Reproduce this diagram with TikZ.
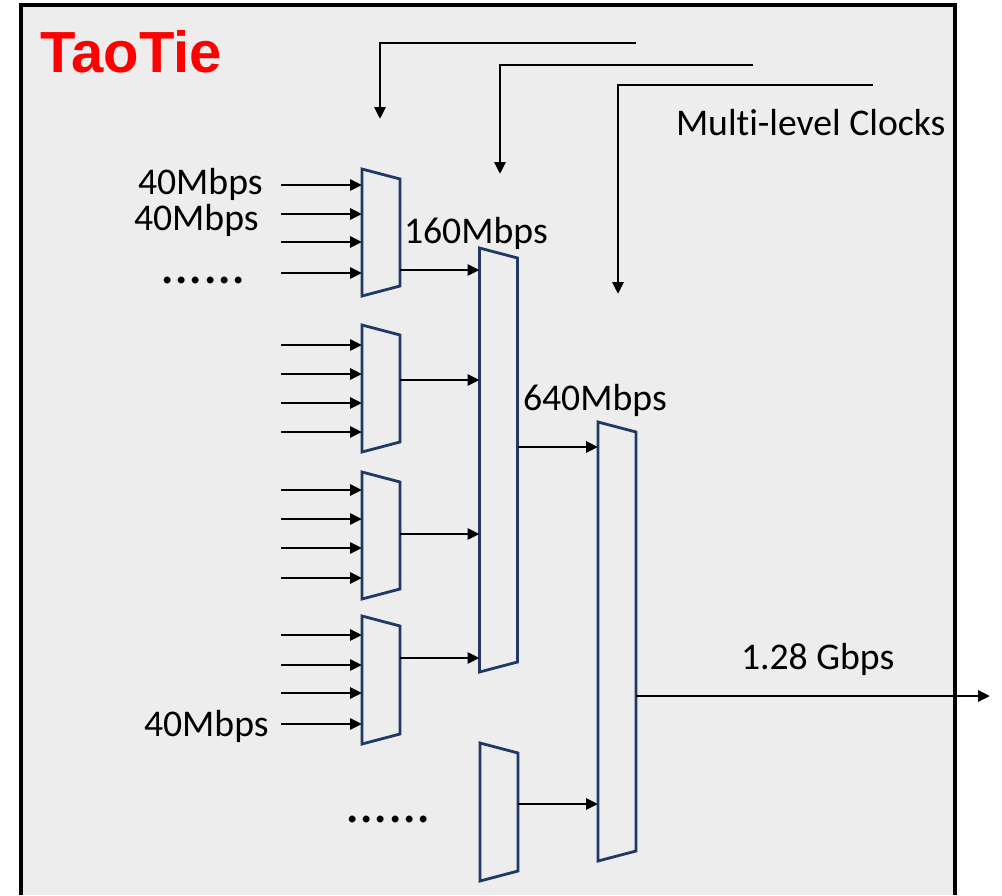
\documentclass[tikz,border=0pt]{standalone}
\usepackage{fontspec}
\setmainfont{Carlito}[Ligatures={NoCommon}]
\newfontfamily\titlefont{Liberation Sans}
\usetikzlibrary{arrows.meta}
\definecolor{bg}{HTML}{EDEDED}
\definecolor{muxc}{HTML}{203864}
\definecolor{titlered}{HTML}{FF0000}
\tikzset{
  arr/.style={line width=2.9pt, -{Triangle[length=12pt,width=11pt]}},
  lbl/.style={inner sep=0pt, outer sep=0pt, anchor=base west, font=\fontsize{37.7}{40}\selectfont},
  dotslbl/.style={inner sep=0pt, outer sep=0pt, anchor=base west, font=\fontsize{57}{60}\selectfont},
  muxbox/.style={inner sep=0pt, outer sep=0pt, minimum width=38pt, draw=none},
  muxline/.style={draw=muxc, line width=2.8pt, line join=miter},
}
\newcommand{\muxdraw}[4]{%
  \node[muxbox, minimum height=#4pt] (#1) at (#2,#3) {};
  \draw[muxline] (#1.north west) -- ([yshift=-10pt]#1.north east) -- ([yshift=10pt]#1.south east) -- (#1.south west) -- cycle;
}
\begin{document}
\begin{tikzpicture}[x=1pt,y=-1pt]
\useasboundingbox (0,0) rectangle (1002,895);
% frame
\fill[bg] (21,5) rectangle (955,895);
\draw[line width=3.4pt, line join=miter] (21,895) -- (21,5) -- (955,5) -- (955,895);
% title
\node[inner sep=0pt, anchor=base west, text=titlered, font=\titlefont\bfseries\fontsize{58}{62}\selectfont] (title) at (40,72) {TaoTie};

% first-level muxes
\muxdraw{A1}{381}{232.5}{127}
\muxdraw{A2}{381}{388.5}{127}
\muxdraw{A3}{381}{535.5}{127}
\muxdraw{A4}{381}{680}{128}
% second level
\muxdraw{B1}{498.5}{460}{424}
\muxdraw{B2}{499}{812}{138}
% third level
\muxdraw{C1}{617}{641.5}{439}

% inputs
\foreach \m/\ys in {A1/{185,214,242,273}, A2/{345,374,403,432}, A3/{490,519,548,578}, A4/{635,665,693,724}}{
  \foreach \y [count=\i] in \ys {
    \coordinate (\m-in\i) at (281,\y);
    \draw[arr] (\m-in\i) -- (\m-in\i -| \m.west);
  }
}
% level-1 outputs
\coordinate (A1o) at (400,270);
\coordinate (A2o) at (400,380);
\coordinate (A3o) at (400,534);
\coordinate (A4o) at (400,658);
\foreach \m in {A1,A2,A3,A4}{
  \draw[arr] (\m o -| \m.east) -- (\m o -| B1.west);
}
% level-2 outputs
\coordinate (B1o) at (517,447);
\coordinate (B2o) at (518,804);
\draw[arr] (B1o -| B1.east) -- (B1o -| C1.west);
\draw[arr] (B2o -| B2.east) -- (B2o -| C1.west);
% final output
\coordinate (Cout) at (990,696);
\draw[arr] (Cout -| C1.east) -- (Cout);

% clocks
\coordinate (k1s) at (636,43);  \coordinate (k1c) at (380,43);  \coordinate (k1e) at (380,119);
\coordinate (k2s) at (753,65);  \coordinate (k2c) at (500,65);  \coordinate (k2e) at (500,174);
\coordinate (k3s) at (873,85);  \coordinate (k3c) at (618,85);  \coordinate (k3e) at (618,294);
\draw[arr, line join=miter] (k1s) -- (k1c) -- (k1e);
\draw[arr, line join=miter] (k2s) -- (k2c) -- (k2e);
\draw[arr, line join=miter] (k3s) -- (k3c) -- (k3e);

% labels
\node[lbl] (l40a) at (138,194) {40Mbps};
\node[lbl] (l40b) at (134,230) {40Mbps};
\node[dotslbl] (dotsa) at (160,283) {......};
\node[lbl] (l40c) at (144,736) {40Mbps};
\node[dotslbl] (dotsb) at (345,822) {......};
\node[lbl] (l160) at (404,243) {160Mbps};
\node[lbl] (l640) at (523,410) {640Mbps};
\node[lbl] (l128) at (741,669) {1.28 Gbps};
\node[lbl] (lclk) at (676,135) {Multi-level Clocks};
\end{tikzpicture}
\end{document}
